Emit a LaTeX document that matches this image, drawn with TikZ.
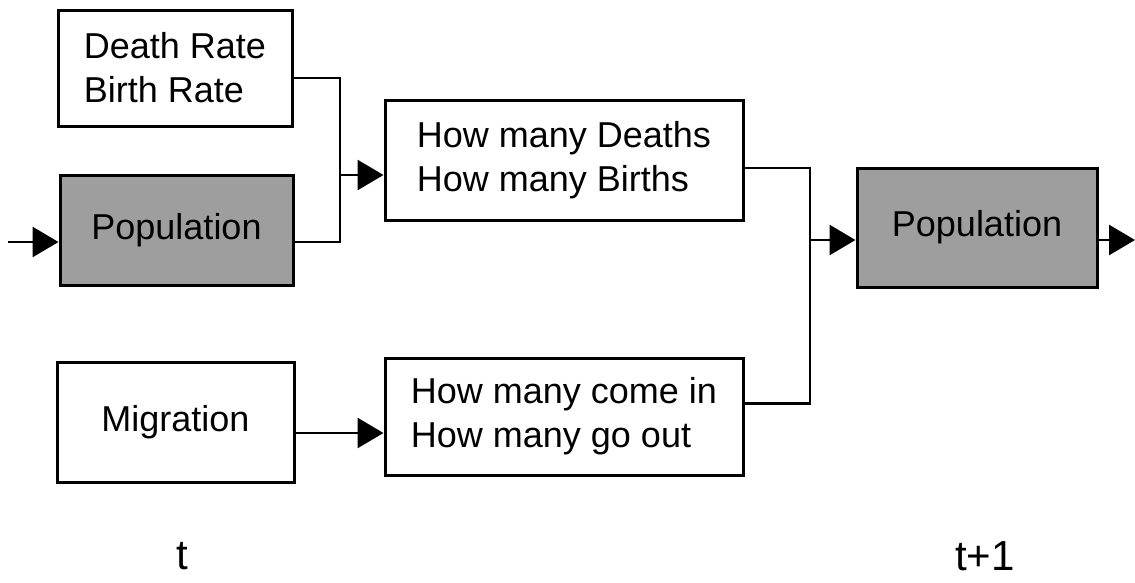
\documentclass[tikz,border=0pt]{standalone}
\usepackage{fontspec}
\setmainfont{Liberation Sans}
\usetikzlibrary{arrows.meta}
\tikzset{
  blk/.style={draw=black, line width=3pt, inner sep=0pt, align=left,
    font=\fontsize{36}{44}\selectfont},
  shaded/.style={blk, fill=black!38},
  conn/.style={line width=2.8pt},
  arr/.style={conn, -{Triangle[length=26pt,width=30pt]}},
  lbl/.style={font=\fontsize{42}{50}\selectfont, inner sep=0pt}
}
\begin{document}
\begin{tikzpicture}[x=1pt,y=-1pt]
\useasboundingbox (0,0) rectangle (1135,582);
\node[blk, minimum width=234pt, minimum height=116pt] (rate) at (175,68) {Death Rate\\Birth Rate};
\node[shaded, minimum width=233pt, minimum height=110pt] (popL) at (176.5,230) {Population};
\node[blk, minimum width=237pt, minimum height=120pt] (mig) at (175.5,422) {Migration};
\node[blk, minimum width=358pt, minimum height=120pt] (deaths) at (564,160) {How many Deaths\\How many Births};
\node[blk, minimum width=358pt, minimum height=117pt] (come) at (564,416.5) {How many come in\\How many go out};
\node[shaded, minimum width=240pt, minimum height=119pt] (popR) at (977,227.5) {Population};
\node[lbl] (t) at (182,556) {t};
\node[lbl] (t1) at (985,556) {t+1};
\coordinate (in) at (8,242);
\coordinate (j1) at (340,175);
\coordinate (j2) at (810,240);
\coordinate (out) at (1135,240);
% input
\draw[arr] (in) -- (popL.west |- in);
% merge 1
\draw[conn] ([yshift=-10pt]rate.east) -| (j1);
\draw[conn] ([yshift=-12pt]popL.east) -| (j1);
\draw[arr] (j1) -- (deaths.west |- j1);
% migration
\draw[arr] ([yshift=-11pt]mig.east) -- ([yshift=-11pt]mig.east -| come.west);
% merge 2
\draw[conn] ([yshift=-8pt]deaths.east) -| (j2);
\draw[conn] ([yshift=13pt]come.east) -| (j2);
\draw[arr] (j2) -- (popR.west |- j2);
% output
\draw[arr] (popR.east |- out) -- (out);
\end{tikzpicture}
\end{document}
